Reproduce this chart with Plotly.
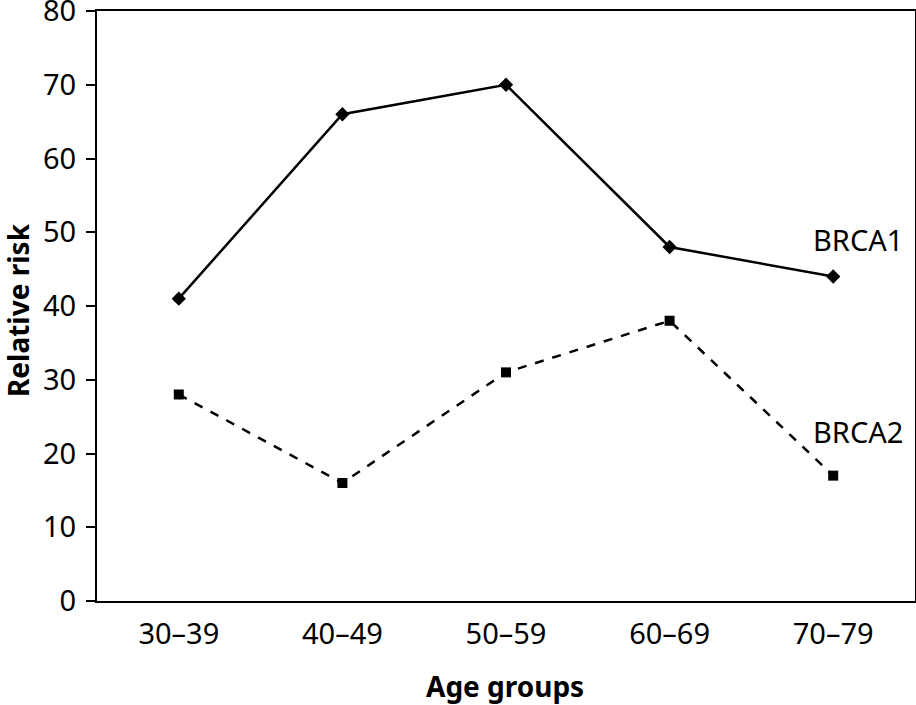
import plotly.graph_objects as go

categories = ["30–39", "40–49", "50–59", "60–69", "70–79"]
brca1 = [41, 66, 70, 48, 44]
brca2 = [28, 16, 31, 38, 17]
y_ticks = [0, 10, 20, 30, 40, 50, 60, 70, 80]

fig = go.Figure()
fig.add_trace(go.Scatter(x=categories, y=brca1, mode="lines+markers", name="BRCA1",
                         line=dict(color="black", width=2.5),
                         marker=dict(symbol="diamond", size=11, color="black")))
fig.add_trace(go.Scatter(x=categories, y=brca2, mode="lines+markers", name="BRCA2",
                         line=dict(color="black", width=2.5, dash="dash"),
                         marker=dict(symbol="square", size=10, color="black")))

fig.add_annotation(x=categories[4], y=brca1[4], text="BRCA1", showarrow=False,
                   xanchor="center", yanchor="middle", yshift=37, xshift=25,
                   font=dict(size=29, color="black"))
fig.add_annotation(x=categories[4], y=brca2[4], text="BRCA2", showarrow=False,
                   xanchor="center", yanchor="middle", yshift=44, xshift=25,
                   font=dict(size=29, color="black"))

fig.add_annotation(xref="paper", yref="paper", x=(505 - 97) / 818, y=(601 - 686) / 590,
                   text="<b>Age groups</b>",
                   showarrow=False, xanchor="center", yanchor="middle",
                   font=dict(size=28, color="black"))
fig.add_annotation(xref="paper", yref="paper", x=(18 - 97) / 818, y=(601 - 310) / 590,
                   text="<b>Relative risk</b>",
                   showarrow=False, xanchor="center", yanchor="middle", textangle=-90,
                   font=dict(size=28, color="black"))

fig.update_layout(
    width=916, height=705,
    margin=dict(l=97, r=1, t=11, b=104),
    paper_bgcolor="white", plot_bgcolor="white",
    showlegend=False,
    font=dict(family="Noto Sans", size=29, color="black"),
)
fig.update_xaxes(range=[-0.5, 4.5], showline=True, linecolor="black", linewidth=2,
                 mirror=True, ticks="", showgrid=False, zeroline=False, automargin=False,
                 tickfont=dict(size=29), ticklabelstandoff=6)
fig.update_yaxes(range=[0, 80], tickvals=y_ticks, showline=True, linecolor="black",
                 linewidth=2, mirror=True, ticks="outside", ticklen=9, tickwidth=2,
                 tickcolor="black", showgrid=False, zeroline=False, automargin=False,
                 ticklabeloverflow="allow", tickfont=dict(size=29), ticklabelstandoff=4)

fig.write_html("out.html", config={"displayModeBar": False},
               post_script="document.body.style.margin='0';document.body.style.overflow='hidden';")
